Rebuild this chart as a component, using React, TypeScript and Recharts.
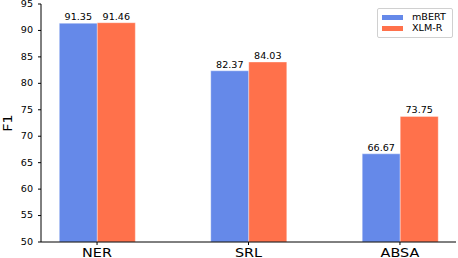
import { BarChart, Bar, XAxis, YAxis, Legend, LabelList } from "recharts";

const tasks = ["NER", "SRL", "ABSA"];
const mbert = [91.35, 82.37, 66.67];
const xlmr = [91.46, 84.03, 73.75];
const yTicks = [50, 55, 60, 65, 70, 75, 80, 85, 90, 95];

const BLUE = "#6589e9";
const ORANGE = "#ff714b";
const FONT = "DejaVu Sans, sans-serif";
const STRETCH = 1.2; // reference text looks horizontally stretched

const data = tasks.map((task, i) => ({
  idx: i,
  task,
  mBERT: mbert[i],
  "XLM-R": xlmr[i],
}));

const xDomain = [-0.37, tasks.length - 1 + 0.37];

function StretchText({ x, y, size, anchor, dy, children, rotate }: any) {
  const t = rotate
    ? `translate(${x},${y}) rotate(-90) scale(${STRETCH},1)`
    : `translate(${x},${y}) scale(${STRETCH},1)`;
  return (
    <text transform={t} textAnchor={anchor} dy={dy} fontSize={size} fontFamily={FONT} fill="#000">
      {children}
    </text>
  );
}

const XTick = (props: any) => (
  <StretchText x={props.x} y={props.y} size={12} anchor="middle" dy="0.72em">
    {tasks[props.payload.value]}
  </StretchText>
);

const YTick = (props: any) => (
  <StretchText x={props.x} y={props.y} size={8} anchor="end" dy="0.36em">
    {props.payload.value}
  </StretchText>
);

const BarValue = (props: any) => (
  <StretchText x={props.x + props.width / 2} y={props.y - 3} size={8} anchor="middle">
    {Number(props.value).toFixed(2)}
  </StretchText>
);

const YLabel = (props: any) => {
  const vb = props.viewBox;
  return (
    <StretchText x={vb.x + 12} y={vb.y + vb.height / 2} size={12} anchor="middle" rotate>
      F1
    </StretchText>
  );
};

function LegendBox() {
  const items = [
    { name: "mBERT", color: BLUE },
    { name: "XLM-R", color: ORANGE },
  ];
  return (
    <div
      style={{
        border: "1px solid #d0d0d0",
        borderRadius: 2,
        background: "#fff",
        padding: "3px 4px 3px 4px",
        fontFamily: FONT,
        fontSize: 8,
        color: "#000",
      }}
    >
      {items.map((it) => (
        <div key={it.name} style={{ display: "flex", alignItems: "center", height: 11 }}>
          <span style={{ width: 21, height: 5, background: it.color, display: "inline-block" }} />
          <span style={{ marginLeft: 9, display: "inline-block", transform: `scaleX(${STRETCH})`, transformOrigin: "left center" }}>
            {it.name}
          </span>
        </div>
      ))}
    </div>
  );
}

export default function App() {
  return (
    <div style={{ position: "absolute", left: 0, top: 0, width: 458, height: 258, background: "#fff" }}>
      <BarChart
        width={458}
        height={258}
        data={data}
        margin={{ top: 4, right: 2, left: 0, bottom: 0 }}
        barGap={0}
        barSize={38}
      >
        <XAxis
          dataKey="idx"
          type="number"
          domain={xDomain}
          ticks={[0, 1, 2]}
          interval={0}
          height={16}
          tickSize={3}
          tickMargin={3}
          stroke="#000"
          tick={<XTick />}
          allowDataOverflow
        />
        <XAxis
          xAxisId="top"
          orientation="top"
          type="number"
          domain={xDomain}
          height={0}
          tick={false}
          tickLine={false}
          stroke="#000"
          allowDataOverflow
        />
        <YAxis
          domain={[50, 95]}
          ticks={yTicks}
          interval={0}
          width={41}
          tickSize={3}
          tickMargin={5}
          stroke="#000"
          tick={<YTick />}
          allowDataOverflow
          label={<YLabel />}
        />
        <YAxis
          yAxisId="right"
          orientation="right"
          domain={[50, 95]}
          width={0}
          tick={false}
          tickLine={false}
          stroke="#000"
        />
        <Legend
          layout="horizontal"
          verticalAlign="middle"
          align="center"
          content={() => <LegendBox />}
          wrapperStyle={{ top: 8, left: 377, width: 76 }}
        />
        <Bar dataKey="mBERT" fill={BLUE} stroke="rgba(255,255,255,0.35)" isAnimationActive={false}>
          <LabelList dataKey="mBERT" content={<BarValue />} />
        </Bar>
        <Bar dataKey="XLM-R" fill={ORANGE} stroke="rgba(255,255,255,0.35)" isAnimationActive={false}>
          <LabelList dataKey="XLM-R" content={<BarValue />} />
        </Bar>
      </BarChart>
    </div>
  );
}
